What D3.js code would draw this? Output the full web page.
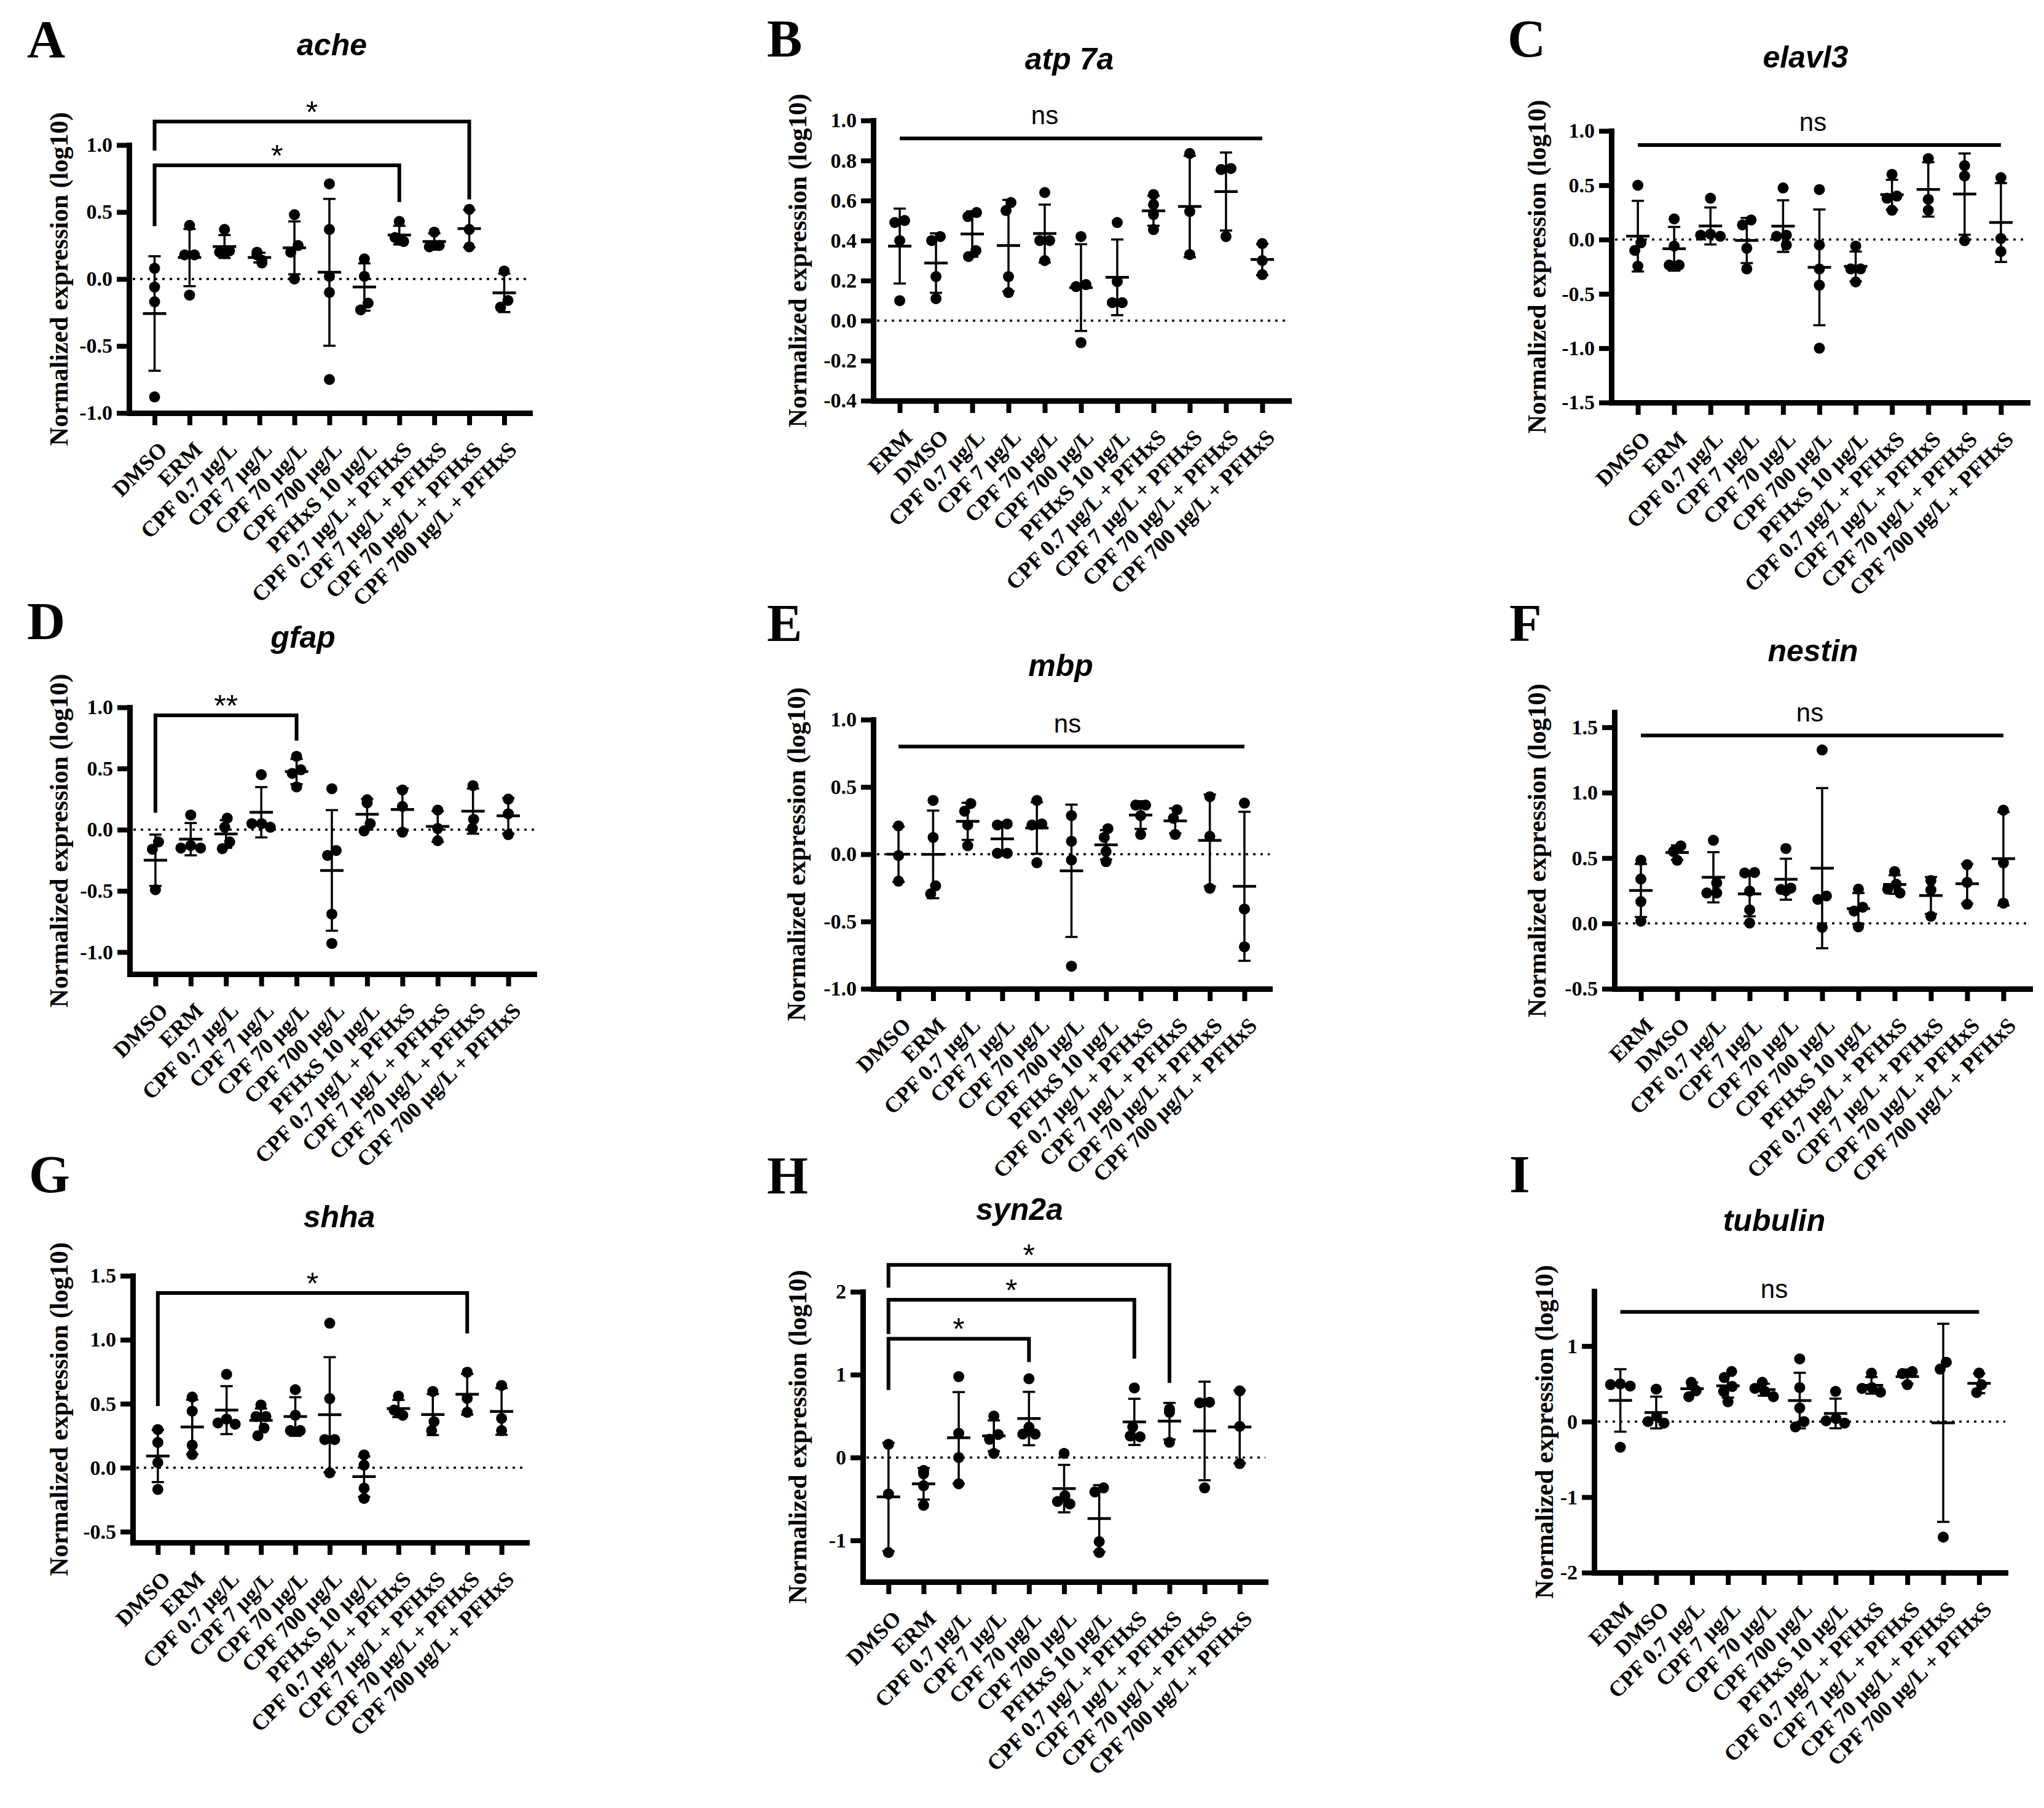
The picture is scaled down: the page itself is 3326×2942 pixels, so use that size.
<!DOCTYPE html>
<meta charset="utf-8">
<title>Normalized expression</title>
<style>
body { margin: 0; background: #fff; }
svg { display: block; background: #fff; }
.letter { font: bold 86px "Liberation Serif", "Times New Roman", serif; }
.title { font: italic bold 50px "Liberation Sans", Arial, sans-serif; }
.ylab { font: bold 42px "Liberation Serif", "Times New Roman", serif; }
.ns { font: 42px "Liberation Sans", Arial, sans-serif; }
.star { font: 50px "Liberation Sans", Arial, sans-serif; }
</style>

<svg width="3326" height="2942"></svg>
<script src="https://d3js.org/d3.v7.min.js"></script>
<script>

var catsDE = ["DMSO", "ERM", "CPF 0.7 μg/L", "CPF 7 μg/L", "CPF 70 μg/L", "CPF 700 μg/L", "PFHxS 10 μg/L",
  "CPF 0.7 μg/L + PFHxS", "CPF 7 μg/L + PFHxS", "CPF 70 μg/L + PFHxS", "CPF 700 μg/L + PFHxS"];
var catsED = ["ERM", "DMSO"].concat(catsDE.slice(2));

// log10 normalized expression, one list of replicates per group
var ache = [
  [0.08, -0.06, -0.17, -0.88], [0.40, 0.18, 0.18, -0.12], [0.37, 0.21, 0.20, 0.19], [0.20, 0.18, 0.14, 0.12],
  [0.48, 0.25, 0.20, 0.00], [0.71, 0.37, 0.02, -0.10, -0.75], [0.15, 0.02, -0.18, -0.23], [0.43, 0.31, 0.29, 0.28],
  [0.35, 0.25, 0.24], [0.52, 0.37, 0.24], [0.06, -0.16, -0.21]
];
var atp7a = [
  [0.50, 0.49, 0.40, 0.10], [0.42, 0.40, 0.22, 0.11], [0.54, 0.52, 0.35, 0.32], [0.59, 0.55, 0.22, 0.14],
  [0.64, 0.40, 0.40, 0.30], [0.42, 0.18, 0.17, -0.11], [0.49, 0.195, 0.09, 0.09], [0.63, 0.58, 0.53, 0.455],
  [0.835, 0.545, 0.33], [0.76, 0.755, 0.42], [0.385, 0.30, 0.23]
];
var elavl3 = [
  [0.50, -0.03, -0.10, -0.245], [0.19, -0.06, -0.235, -0.235], [0.38, 0.05, 0.04, 0.03], [0.18, 0.135, -0.08, -0.27],
  [0.475, 0.04, 0.03, -0.05], [0.46, -0.05, -0.27, -0.42, -1.0], [-0.06, -0.27, -0.27, -0.39], [0.60, 0.40, 0.38, 0.27],
  [0.745, 0.37, 0.27], [0.68, 0.585, -0.01], [0.57, 0.01, -0.11]
];
var gfap = [
  [-0.10, -0.16, -0.49], [0.12, -0.13, -0.15, -0.15], [0.094, 0.02, -0.10, -0.155], [0.45, 0.05, 0.05, 0.02],
  [0.60, 0.49, 0.46, 0.35], [0.335, -0.17, -0.21, -0.69, -0.93], [0.245, 0.22, 0.05, -0.01], [0.325, 0.19, -0.02],
  [0.16, 0.01, -0.09], [0.36, 0.085, 0.01], [0.25, 0.13, -0.04]
];
var mbp = [
  [0.21, -0.01, -0.20], [0.40, 0.125, -0.235, -0.295], [0.377, 0.32, 0.217, 0.063], [0.225, 0.217, 0.007, 0.007],
  [0.40, 0.225, 0.217, -0.063], [0.287, 0.096, -0.043, -0.832], [0.19, 0.125, 0.02, -0.055], [0.365, 0.365, 0.287, 0.147],
  [0.33, 0.267, 0.147], [0.427, 0.133, -0.253], [0.38, -0.407, -0.688]
];
var nestin = [
  [0.483, 0.34, 0.167, 0.017], [0.593, 0.55, 0.483], [0.636, 0.31, 0.233, 0.233], [0.39, 0.386, 0.247, 0.104, 0.003],
  [0.573, 0.27, 0.26, 0.25], [1.327, 0.21, 0.184, -0.03], [0.262, 0.124, 0.095, -0.026], [0.397, 0.30, 0.262, 0.233],
  [0.328, 0.256, 0.055], [0.449, 0.314, 0.147], [0.866, 0.463, 0.155]
];
var shha = [
  [0.298, 0.197, 0.04, -0.17], [0.552, 0.442, 0.176, 0.103], [0.73, 0.38, 0.35, 0.34], [0.49, 0.40, 0.40, 0.31, 0.25],
  [0.61, 0.41, 0.29, 0.29], [1.13, 0.54, 0.22, 0.22, -0.04], [0.10, 0.02, -0.16, -0.24], [0.56, 0.45, 0.43, 0.41],
  [0.596, 0.36, 0.29], [0.746, 0.542, 0.433], [0.643, 0.386, 0.29]
];
var syn2a = [
  [0.16, -0.44, -1.146], [-0.156, -0.195, -0.34, -0.576], [0.976, 0.293, 0.0, -0.317], [0.5, 0.278, 0.22, 0.05],
  [0.95, 0.366, 0.283, 0.283], [0.05, -0.46, -0.53, -0.56], [-0.366, -0.415, -1.015, -1.146], [0.84, 0.37, 0.26, 0.25],
  [0.585, 0.546, 0.185], [0.668, 0.66, -0.366], [0.805, 0.376, -0.073]
];
var tubulin = [
  [0.50, 0.49, 0.47, -0.34], [0.43, 0.07, 0.0, -0.02], [0.52, 0.48, 0.41, 0.33], [0.663, 0.583, 0.465, 0.40, 0.262],
  [0.52, 0.44, 0.40, 0.33], [0.83, 0.45, 0.18, 0.0, -0.07], [0.40, 0.04, 0.01, -0.02], [0.64, 0.45, 0.44, 0.39],
  [0.663, 0.636, 0.49], [0.786, 0.695, -1.53], [0.642, 0.49, 0.385]
];

var ticksA = [-1, -0.5, 0, 0.5, 1];
var ticksB = [-0.4, -0.2, 0, 0.2, 0.4, 0.6, 0.8, 1];
var ticksC = [-1.5, -1, -0.5, 0, 0.5, 1];
var ticksF = [-0.5, 0, 0.5, 1, 1.5];
var ticksH = [-1, 0, 1, 2];
var ticksI = [-2, -1, 0, 1];

// significance brackets (group index, bracket height and leg ends in data units)
var sigA = [{from: 0, to: 7, top: 0.849, left: 0.394, right: 0.575, label: "*"},
            {from: 0, to: 9, top: 1.176, left: 0.959, right: 0.594, label: "*"}];
var sigD = [{from: 0, to: 4, top: 0.935, left: 0.139, right: 0.727, label: "**"}];
var sigG = [{from: 0, to: 9, top: 1.365, left: 0.482, right: 1.05, label: "*"}];
var sigH = [{from: 0, to: 4, top: 1.433, left: 0.816, right: 1.153, label: "*"},
            {from: 0, to: 7, top: 1.903, left: 1.49, right: 1.194, label: "*"},
            {from: 0, to: 8, top: 2.324, left: 2.05, right: 0.90, label: "*"}];

var panels = [
  {id: "A", gene: "ache", cats: catsDE, values: ache, domain: [-1, 1], ticks: ticksA, dec: 1, sig: sigA, ns: null},
  {id: "B", gene: "atp 7a", cats: catsED, values: atp7a, domain: [-0.4, 1], ticks: ticksB, dec: 1, sig: [], ns: 0.91},
  {id: "C", gene: "elavl3", cats: catsDE, values: elavl3, domain: [-1.5, 1], ticks: ticksC, dec: 1, sig: [], ns: 0.87},
  {id: "D", gene: "gfap", cats: catsDE, values: gfap, domain: [-1.18, 1], ticks: ticksA, dec: 1, sig: sigD, ns: null},
  {id: "E", gene: "mbp", cats: catsDE, values: mbp, domain: [-1, 1], ticks: ticksA, dec: 1, sig: [], ns: 0.80},
  {id: "F", gene: "nestin", cats: catsED, values: nestin, domain: [-0.5, 1.615], ticks: ticksF, dec: 1, sig: [], ns: 1.437},
  {id: "G", gene: "shha", cats: catsDE, values: shha, domain: [-0.585, 1.5], ticks: ticksF, dec: 1, sig: sigG, ns: null},
  {id: "H", gene: "syn2a", cats: catsDE, values: syn2a, domain: [-1.5, 2], ticks: ticksH, dec: 0, sig: sigH, ns: null},
  {id: "I", gene: "tubulin", cats: catsED, values: tubulin, domain: [-2, 1.727], ticks: ticksI, dec: 0, sig: [], ns: 1.452}
];

// page layout of each panel
var layout = {
  A: {x0: 210, x1: 862, yTop: 236, yBot: 672, letter: [44, 93], title: [540, 90], ylab: 96},
  B: {x0: 1421, x1: 2097, yTop: 196, yBot: 652, letter: [1248, 92], title: [1740, 113], ylab: 1298, nsX: 1700},
  C: {x0: 2622, x1: 3299, yTop: 213, yBot: 655, letter: [2453, 92], title: [2938, 110], ylab: 2501, nsX: 2950},
  D: {x0: 211, x1: 869, yTop: 1151, yBot: 1585, letter: [44, 1040], title: [493, 1054], ylab: 96},
  E: {x0: 1421, x1: 2066, yTop: 1171, yBot: 1609, letter: [1248, 1043], title: [1726, 1100], ylab: 1296, nsX: 1737},
  F: {x0: 2627, x1: 3303, yTop: 1159, yBot: 1609, letter: [2456, 1043], title: [2950, 1076], ylab: 2501, nsX: 2945},
  G: {x0: 216, x1: 857, yTop: 2076, yBot: 2510, letter: [47, 1940], title: [552, 1997], ylab: 96},
  H: {x0: 1404, x1: 2059, yTop: 2102, yBot: 2574, letter: [1248, 1942], title: [1659, 1985], ylab: 1298},
  I: {x0: 2594, x1: 3263, yTop: 2101, yBot: 2559, letter: [2456, 1940], title: [2887, 2003], ylab: 2513, nsX: 2887}
};

var R = 9, D = 15;

// simple beeswarm: place each dot at the smallest offset that avoids overlap,
// then centre each touching cluster on the group position
function swarm(vals, y) {
  var pts = vals.map(function(v) { return {v: v, py: y(v), dx: 0}; });
  var placed = [];
  pts.slice().sort(function(a, b) { return a.py - b.py; }).forEach(function(p) {
    for (var k = 0; k < 60; k++) {
      var c = k === 0 ? 0 : (k % 2 ? -1 : 1) * Math.ceil(k / 2) * 2;
      var ok = placed.every(function(q) {
        var ex = c - q.dx, ey = p.py - q.py;
        return ex * ex + ey * ey >= D * D;
      });
      if (ok) { p.dx = c; break; }
    }
    placed.push(p);
  });
  var seen = [];
  placed.forEach(function(p) {
    if (seen.indexOf(p) >= 0) return;
    var cl = [p], j = 0;
    seen.push(p);
    while (j < cl.length) {
      var a = cl[j++];
      placed.forEach(function(b) {
        if (seen.indexOf(b) < 0 && Math.hypot(a.dx - b.dx, a.py - b.py) < D + 1.5) { cl.push(b); seen.push(b); }
      });
    }
    var m = d3.mean(cl, function(d) { return d.dx; });
    cl.forEach(function(d) { d.dx -= m; });
  });
  return pts;
}

var svg = d3.select("svg");

panels.forEach(function(p) {
  var L = layout[p.id];
  var g = svg.append("g");

  var x = d3.scalePoint().domain(p.cats).range([L.x0, L.x1]).padding(0.73);
  var y = d3.scaleLinear().domain(p.domain).range([L.yBot, L.yTop]);

  g.append("text").attr("class", "letter").attr("x", L.letter[0]).attr("y", L.letter[1]).text(p.id);
  g.append("text").attr("class", "title").attr("x", L.title[0]).attr("y", L.title[1])
    .attr("text-anchor", "middle").text(p.gene);
  g.append("text").attr("class", "ylab")
    .attr("transform", "translate(" + L.ylab + "," + (L.yTop + L.yBot) / 2 + ") rotate(-90)")
    .attr("text-anchor", "middle").attr("dominant-baseline", "central")
    .text("Normalized expression (log10)");

  g.append("line")
    .attr("x1", L.x0 + 6).attr("x2", L.x1).attr("y1", y(0)).attr("y2", y(0))
    .attr("stroke", "#000").attr("stroke-width", 3.5).attr("stroke-dasharray", "4 8");

  var ya = g.append("g").attr("transform", "translate(" + L.x0 + ",0)")
    .call(d3.axisLeft(y).tickValues(p.ticks).tickSize(20).tickSizeOuter(0).tickPadding(7)
      .tickFormat(function(d) { return d.toFixed(p.dec); }));
  var xa = g.append("g").attr("transform", "translate(0," + L.yBot + ")")
    .call(d3.axisBottom(x).tickSize(20).tickSizeOuter(0));

  [ya, xa].forEach(function(a) {
    a.select(".domain").attr("stroke-width", 9).attr("stroke-linecap", "square");
    a.selectAll(".tick line").attr("stroke-width", 8);
    a.selectAll("text").attr("fill", "#000")
      .style("font", "bold 34px 'Liberation Serif', 'Times New Roman', serif");
  });
  xa.selectAll("text")
    .style("font-size", "36px")
    .attr("x", 0).attr("y", 0).attr("dy", 0)
    .attr("text-anchor", "end")
    .attr("transform", "translate(22,62) rotate(-45)");

  p.values.forEach(function(vals, i) {
    var cx = x(p.cats[i]);
    var pts = swarm(vals, y);
    g.selectAll(null).data(pts).enter().append("circle")
      .attr("cx", function(d) { return cx + d.dx; })
      .attr("cy", function(d) { return d.py; })
      .attr("r", R).attr("fill", "#000");

    var m = d3.mean(vals), sd = d3.deviation(vals);
    var eb = g.append("g").attr("stroke", "#000");
    eb.append("line").attr("x1", cx).attr("x2", cx).attr("y1", y(m + sd)).attr("y2", y(m - sd)).attr("stroke-width", 3.5);
    [m + sd, m - sd].forEach(function(v) {
      eb.append("line").attr("x1", cx - 10).attr("x2", cx + 10).attr("y1", y(v)).attr("y2", y(v)).attr("stroke-width", 3.5);
    });
    eb.append("line").attr("x1", cx - 19).attr("x2", cx + 19).attr("y1", y(m)).attr("y2", y(m)).attr("stroke-width", 4.5);
  });

  p.sig.forEach(function(s) {
    var xa0 = x(p.cats[s.from]), xa1 = x(p.cats[s.to]);
    g.append("path")
      .attr("d", "M" + xa0 + "," + y(s.left) + "V" + y(s.top) + "H" + xa1 + "V" + y(s.right))
      .attr("fill", "none").attr("stroke", "#000").attr("stroke-width", 6);
    g.append("text").attr("class", "star").attr("x", (xa0 + xa1) / 2).attr("y", y(s.top) + 2)
      .attr("text-anchor", "middle").text(s.label);
  });

  if (p.ns !== null) {
    g.append("line")
      .attr("x1", x(p.cats[0])).attr("x2", x(p.cats[p.cats.length - 1]))
      .attr("y1", y(p.ns)).attr("y2", y(p.ns))
      .attr("stroke", "#000").attr("stroke-width", 6);
    g.append("text").attr("class", "ns").attr("x", L.nsX).attr("y", y(p.ns) - 23)
      .attr("text-anchor", "middle").text("ns");
  }
});

</script>
